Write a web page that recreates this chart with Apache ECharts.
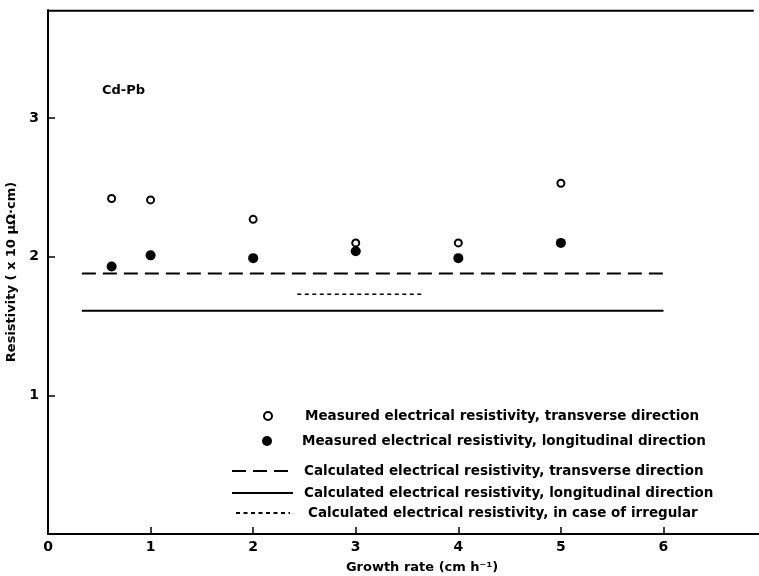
<!DOCTYPE html>
<html>
<head>
<meta charset="utf-8">
<script src="https://cdn.jsdelivr.net/npm/echarts@6/dist/echarts.min.js"></script>
<style>
  html, body { margin: 0; padding: 0; background: #fff; overflow: hidden; }
  #chart { width: 759px; height: 576px; }
</style>
</head>
<body>
<div id="chart"></div>
<script>
// growth rate (cm h-1) of the measured samples
const growthRate = [0.62, 1, 2, 3, 4, 5]
// measured resistivity (x10 μΩ·cm)
const measTransverse = [2.42, 2.41, 2.27, 2.10, 2.10, 2.53]
const measLongitudinal = [1.93, 2.01, 1.99, 2.04, 1.99, 2.10]
// calculated lines: [start, end] growth rate and constant value
const calcRange = [0.33, 6]
const calcTransverse = 1.88
const calcLongitudinal = 1.61
const irregularRange = [2.43, 3.64]
const calcIrregular = 1.73
// axis extents
const xMax = 6.98
const yMax = 3.78
// the top edge of the frame stops a little short of the right side
const frameEnd = 6.88

const names = [
  'Measured electrical resistivity, transverse direction',
  'Measured electrical resistivity, longitudinal direction',
  'Calculated electrical resistivity, transverse direction',
  'Calculated electrical resistivity, longitudinal direction',
  'Calculated electrical resistivity, in case of irregular'
]

const font = 'DejaVu Sans'
const chart = echarts.init(document.getElementById('chart'))

function pairs (xs, ys) {
  return xs.map((x, i) => [x, ys[i]])
}
function flat (range, v) {
  return [[range[0], v], [range[1], v]]
}

// one legend per row, so every row sits where it does in the figure
function legendRow (name, left, centerY, w, h, pad, hideSymbol) {
  const row = {
    data: [name],
    left: left,
    top: centerY - h / 2,
    itemWidth: w,
    itemHeight: h,
    selectedMode: false,
    textStyle: {
      color: '#000',
      fontFamily: font,
      fontWeight: 'bold',
      fontSize: 13.5,
      padding: [0, 0, 0, pad]
    }
  }
  if (hideSymbol) row.itemStyle = { opacity: 0 }
  return row
}

const option = {
  animation: false,
  backgroundColor: '#fff',
  title: {
    text: 'Cd-Pb',
    left: 97,
    top: 79,
    textStyle: { color: '#000', fontFamily: font, fontWeight: 'bold', fontSize: 13 }
  },
  grid: { left: 48, top: 10, width: 716, height: 524, outerBoundsMode: 'none' },
  legend: [
    legendRow(names[0], 258, 408, 8, 8, 28),
    legendRow(names[1], 257, 434, 10, 10, 25),
    legendRow(names[2], 226, 465, 61, 12, 6, true),
    legendRow(names[3], 226, 487, 61, 12, 6, true),
    legendRow(names[4], 230, 507, 54, 12, 13, true)
  ],
  xAxis: {
    type: 'value',
    min: 0,
    max: xMax,
    interval: 1,
    name: 'Growth rate (cm h⁻¹)',
    nameLocation: 'middle',
    nameGap: 27,
    nameTextStyle: {
      color: '#000', fontFamily: font, fontWeight: 'bold', fontSize: 13, padding: [0, 0, 0, 32]
    },
    splitLine: { show: false },
    axisLine: { lineStyle: { color: '#000', width: 2 } },
    axisTick: { inside: true, length: 7, lineStyle: { color: '#000', width: 1.5 } },
    axisLabel: {
      color: '#000',
      fontFamily: font,
      fontWeight: 'bold',
      fontSize: 14,
      margin: 6,
      showMaxLabel: false,
      formatter: v => (Number.isInteger(v) ? String(v) : '')
    }
  },
  yAxis: {
    type: 'value',
    position: 'left',
    min: 0,
    max: yMax,
    interval: 1,
    name: 'Resistivity ( x 10 μΩ·cm)',
    nameLocation: 'middle',
    nameRotate: 90,
    nameGap: 28,
    nameTextStyle: { color: '#000', fontFamily: font, fontWeight: 'bold', fontSize: 13 },
    splitLine: { show: false },
    axisLine: { show: true, onZero: false, lineStyle: { color: '#000', width: 2 } },
    axisTick: { inside: true, length: 7, lineStyle: { color: '#000', width: 1.5 } },
    axisLabel: {
      color: '#000',
      fontFamily: font,
      fontWeight: 'bold',
      fontSize: 14,
      margin: 9,
      showMinLabel: false,
      showMaxLabel: false,
      formatter: v => (Number.isInteger(v) ? String(v) : '')
    }
  },
  series: [
    {
      // top edge of the frame
      name: 'frame',
      type: 'line',
      symbol: 'none',
      silent: true,
      clip: false,
      lineStyle: { color: '#000', width: 2 },
      data: [[0, yMax - 0.005], [frameEnd, yMax - 0.005]]
    },
    {
      name: names[0],
      type: 'scatter',
      symbol: 'circle',
      symbolSize: 7,
      itemStyle: { color: '#fff', borderColor: '#000', borderWidth: 2, opacity: 1 },
      data: pairs(growthRate, measTransverse)
    },
    {
      name: names[1],
      type: 'scatter',
      symbol: 'circle',
      symbolSize: 10,
      itemStyle: { color: '#000', opacity: 1 },
      data: pairs(growthRate, measLongitudinal)
    },
    {
      name: names[2],
      type: 'line',
      symbol: 'none',
      itemStyle: { color: '#000' },
      lineStyle: { color: '#000', width: 2, type: [14, 7] },
      data: flat(calcRange, calcTransverse)
    },
    {
      name: names[3],
      type: 'line',
      symbol: 'none',
      itemStyle: { color: '#000' },
      lineStyle: { color: '#000', width: 2, type: 'solid' },
      data: flat(calcRange, calcLongitudinal)
    },
    {
      name: names[4],
      type: 'line',
      symbol: 'none',
      itemStyle: { color: '#000' },
      lineStyle: { color: '#000', width: 1.5, type: [4, 3.5] },
      data: flat(irregularRange, calcIrregular)
    }
  ]
}

chart.setOption(option)
</script>
</body>
</html>
